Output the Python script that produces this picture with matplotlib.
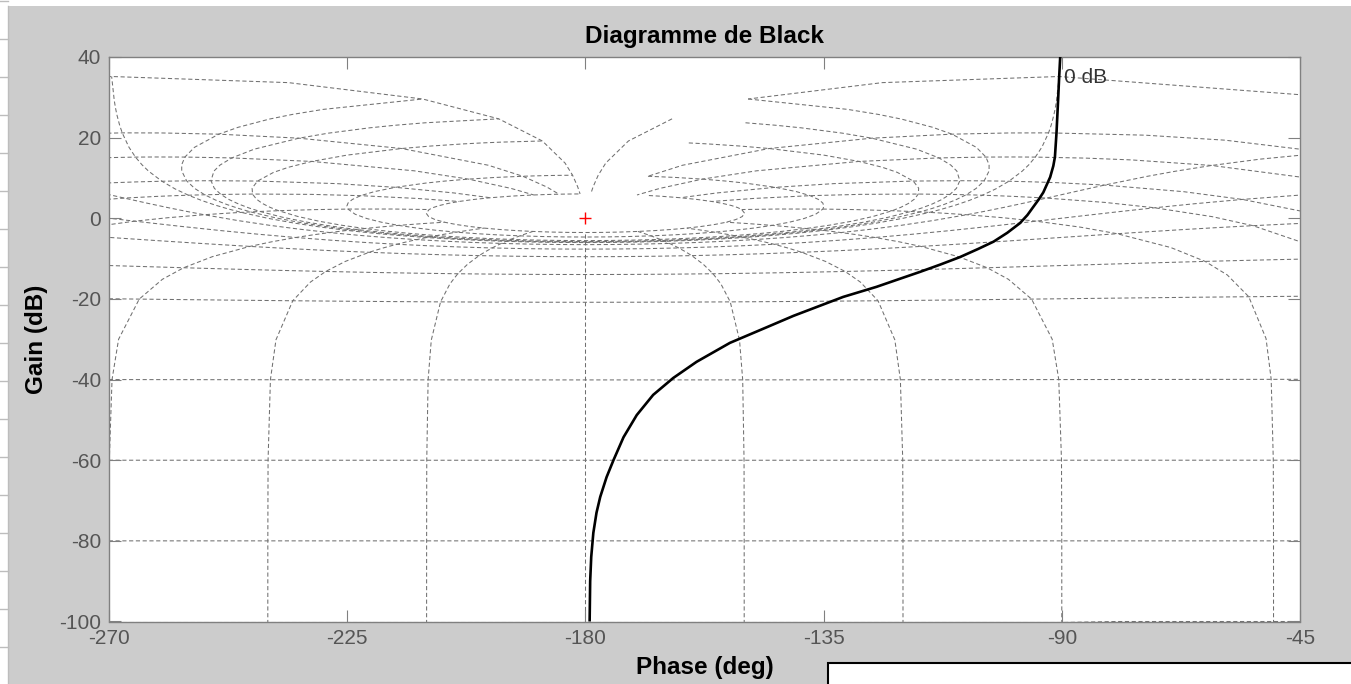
import numpy as np
import matplotlib
matplotlib.use("Agg")
import matplotlib.pyplot as plt
from matplotlib.patches import Rectangle
from matplotlib.lines import Line2D

plt.rcParams['font.family'] = ['Liberation Sans', 'DejaVu Sans']
plt.rcParams['axes.unicode_minus'] = False

# ---------------- data ----------------
# open-loop locus (phase in deg, gain in dB)
curve_phase = [-179.2, -179.1, -178.9, -178.5, -177.9, -177.2, -176.0, -174.7,
               -172.8, -170.3, -167.2, -163.4, -159.0, -152.7, -145.7, -140.7,
               -136.9, -131.3, -125.0, -120.8, -116.8, -113.0, -109.2, -105.8,
               -102.9, -100.3, -97.9, -96.5, -95.4, -94.4, -93.5, -92.2,
               -91.6, -91.3, -91.0, -90.7, -90.5, -90.3]
curve_gain = [-100, -90.0, -84.0, -78.0, -73.0, -69.1, -64.2, -60.0,
              -54.3, -48.8, -43.8, -39.6, -35.6, -30.9, -27.0, -24.2,
              -22.3, -19.5, -17.0, -15.1, -13.3, -11.5, -9.6, -7.6,
              -5.8, -3.6, -1.2, 0.8, 2.8, 4.6, 6.4, 10.2,
              13.0, 15.2, 21.2, 29.3, 35.0, 40]

# Nichols grid: closed-loop iso-gain (dB) and iso-phase (deg) values
cl_gain_db = [6, 3, 1, 0.5, 0.25, 0, -1, -3, -6, -12, -20, -40, -60, -80, -100, -120]
cl_phase_deg = [-1, -5, -10, -20, -30, -50, -90, -120, -150, -180,
                -210, -240, -270, -310, -330, -340, -350, -355, -359]
# portions of the grid that are missing in the picture (right of the critical point)
m_loop_first_phase = {6: -12.5, 3: -5, 1: -2.5, 0.5: -2, 0.25: -1}
n_curve_max_gain = {-5: 3}
n_curve_gap = {-1: (0.25, 0.5)}

x_ticks = [-270, -225, -180, -135, -90, -45]
y_ticks = [40, 20, 0, -20, -40, -60, -80, -100]
critical_point = (-180, 0)

title_text = "Diagramme de Black"
xlabel_text = "Phase (deg)"
ylabel_text = "Gain (dB)"
contour_label = "0 dB"
contour_label_pos = (-89.6, 35.0)

# ---------------- figure ----------------
W, H = 1351, 684
fig = plt.figure(figsize=(W / 100, H / 100), dpi=100, facecolor='#cccccc')
ax = fig.add_axes([109 / W, 1 - 621.5 / H, (1300 - 109) / W, 564.5 / H])
ax.set_facecolor('white')


def nichols_map(g_db, p_deg):
    g_db = np.asarray(g_db, dtype=float)
    p_deg = np.asarray(p_deg, dtype=float)
    z = 10 ** (g_db / 20) * np.exp(1j * np.deg2rad(p_deg))
    L = z / (1 - z)
    gain = 20 * np.log10(np.abs(L))
    phase = np.mod(np.rad2deg(np.angle(L)), 360) - 360
    return phase, gain


grid_kw = dict(color='#707070', lw=0.75, linestyle=(0, (4, 2.5)), zorder=1)

# sampling of closed-loop phase along iso-gain curves
half = np.array([1, 2, 2.5, 3, 4, 5, 7.5, 10, 12.5, 15, 20, 25, 30, 35, 40, 45, 50,
                 60, 70, 80, 90, 100, 110, 120, 130, 140, 150, 160, 170, 180])
p_samp = np.concatenate([-half, -(360 - half[::-1][1:])])
for g in cl_gain_db:
    first = m_loop_first_phase.get(g, -1)
    ps = p_samp[p_samp <= first + 1e-9]
    ph, gn = nichols_map(np.full_like(ps, g), ps)
    ax.plot(ph, gn, **grid_kw)

# sampling of closed-loop gain along iso-phase curves
g_samp = np.array([-120, -100, -80, -60, -40, -30, -20, -15, -12, -9, -6, -4.5,
                   -3, -2, -1, -0.5, -0.25, 0, 0.1, 0.25, 0.5, 1, 2, 3, 4.5, 6])
for p in cl_phase_deg:
    gs = g_samp[g_samp <= n_curve_max_gain.get(p, 6) + 1e-9]
    if p in n_curve_gap:
        lo, hi = n_curve_gap[p]
        pieces = [gs[gs <= lo + 1e-9], gs[gs >= hi - 1e-9]]
    else:
        pieces = [gs]
    for piece in pieces:
        ph, gn = nichols_map(piece, np.full_like(piece, p))
        ax.plot(ph, gn, **grid_kw)

# open-loop locus
ax.plot(curve_phase, curve_gain, color='black', lw=1.9, zorder=3,
        solid_joinstyle='round', solid_capstyle='butt')

# critical point
ax.plot([critical_point[0]], [critical_point[1]], marker='+', color='red',
        ms=9, mew=1.0, zorder=4)

ax.text(contour_label_pos[0], contour_label_pos[1], contour_label,
        fontsize=15, color='#333333', ha='left', va='center', zorder=5)

ax.set_xlim(-270, -45)
ax.set_ylim(-100, 40)
ax.set_xticks(x_ticks)
ax.set_yticks(y_ticks)
ax.tick_params(direction='in', length=8.6, width=0.8, colors='#808080',
               labelcolor='#555555', labelsize=15, top=True, right=True, pad=5.5)
for s in ax.spines.values():
    s.set_color('#808080')
    s.set_linewidth(1.0)

ax.set_title(title_text, fontsize=17.5, fontweight='bold', pad=10)
ax.set_xlabel(xlabel_text, fontsize=17.5, fontweight='bold', labelpad=6)
ax.set_ylabel(ylabel_text, fontsize=17.5, fontweight='bold', labelpad=8)

# ---------------- screenshot decorations ----------------
def px_rect(x0, y0, x1, y1, **kw):
    fig.add_artist(Rectangle((x0 / W, 1 - y1 / H), (x1 - x0) / W, (y1 - y0) / H,
                             transform=fig.transFigure, **kw))

px_rect(0, 0, W, 5.5, facecolor='white', edgecolor='none')
px_rect(0, 0, 8, H, facecolor='white', edgecolor='none')
fig.add_artist(Line2D([8.3 / W, 8.3 / W], [0, 1 - 5.5 / H], transform=fig.transFigure,
                      color='#bdbdbd', lw=1))
for yy in np.arange(1, H, 38):
    fig.add_artist(Line2D([0, 8 / W], [1 - yy / H, 1 - yy / H], transform=fig.transFigure,
                          color='#bdbdbd', lw=1))
px_rect(828, 663, W + 5, H + 5, facecolor='white', edgecolor='black', lw=1.5)

fig.savefig('out.png', dpi=100, facecolor=fig.get_facecolor())
